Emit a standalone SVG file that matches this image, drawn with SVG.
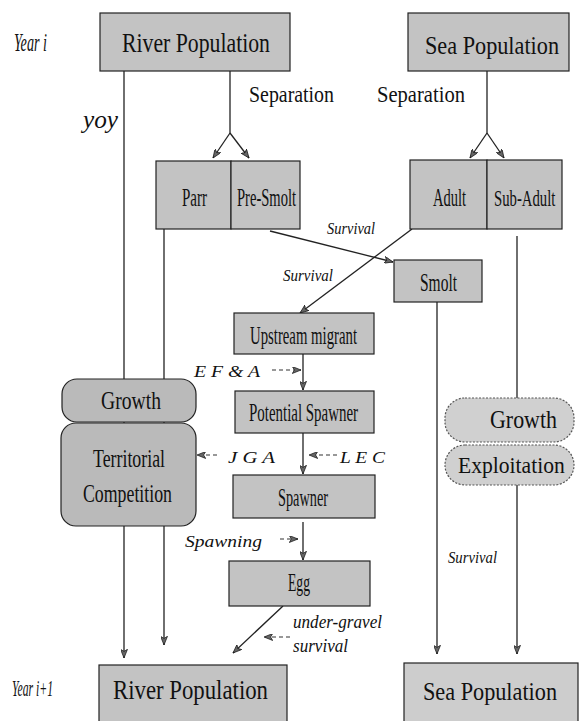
<svg xmlns="http://www.w3.org/2000/svg" width="581" height="721" viewBox="0 0 581 721">
<style>
.box{fill:#c3c3c3;stroke:#222;stroke-width:1.2}
.rbox{fill:#bababa;stroke:#222;stroke-width:1.2}
.lbox{fill:#d0d0d0;stroke:#555;stroke-width:1.2;stroke-dasharray:2 1.5}
text{font-family:'Liberation Serif','DejaVu Serif','Times New Roman',serif;fill:#111}
.t{font-size:26px}
.i{font-style:italic}
.ln{stroke:#222;stroke-width:1.3;fill:none}
.dl{stroke:#333;stroke-width:1.2;fill:none;stroke-dasharray:4 3}
</style>
<defs>
<marker id="ah" viewBox="0 0 10 8" markerWidth="9" markerHeight="7" refX="10" refY="4" orient="auto" markerUnits="userSpaceOnUse"><path d="M0,0 L10,4 L0,8 L2.5,4 z" fill="#666" stroke="#111" stroke-width="0.8"/></marker>
</defs>
<rect width="581" height="721" fill="#fff"/>
<g id="connectors">
<path class="ln" d="M124,71 V658" marker-end="url(#ah)"/>
<path class="ln" d="M164,229 V645" marker-end="url(#ah)"/>
<path class="ln" d="M230,71 V133"/>
<path class="ln" d="M230,133 L213,158" marker-end="url(#ah)"/>
<path class="ln" d="M230,133 L249,158" marker-end="url(#ah)"/>
<path class="ln" d="M487,71 V133"/>
<path class="ln" d="M487,133 L470,158" marker-end="url(#ah)"/>
<path class="ln" d="M487,133 L504,158" marker-end="url(#ah)"/>
<path class="ln" d="M270,231 L393,262" marker-end="url(#ah)"/>
<path class="ln" d="M412,229 L300,313" marker-end="url(#ah)"/>
<path class="ln" d="M303,354 V390" marker-end="url(#ah)"/>
<path class="ln" d="M303,433 V474" marker-end="url(#ah)"/>
<path class="ln" d="M303,522 V560" marker-end="url(#ah)"/>
<path class="ln" d="M283,606 L233,653" marker-end="url(#ah)"/>
<path class="ln" d="M437,302 V654" marker-end="url(#ah)"/>
<path class="ln" d="M517,236 V398"/>
<path class="ln" d="M517,485 V654" marker-end="url(#ah)"/>
<path class="dl" d="M272,370 H301" marker-end="url(#ah)"/>
<path class="dl" d="M217,455 H197" marker-end="url(#ah)"/>
<path class="dl" d="M337,455 H309" marker-end="url(#ah)"/>
<path class="dl" d="M280,539 H298" marker-end="url(#ah)"/>
<path class="dl" d="M290,637 H264" marker-end="url(#ah)"/>
</g>
<g id="labels">
<text class="i" x="14" y="51" font-size="26" textLength="33" lengthAdjust="spacingAndGlyphs">Year i</text>
<text class="i" x="83" y="128" font-size="26" textLength="35" lengthAdjust="spacingAndGlyphs">yoy</text>
<text class="i" x="12" y="696" font-size="24" textLength="41" lengthAdjust="spacingAndGlyphs">Year i+1</text>
<text x="249" y="102" font-size="23" textLength="85" lengthAdjust="spacingAndGlyphs">Separation</text>
<text x="377" y="102" font-size="23" textLength="88" lengthAdjust="spacingAndGlyphs">Separation</text>
<text class="i" x="327" y="234" font-size="17" textLength="48" lengthAdjust="spacingAndGlyphs">Survival</text>
<text class="i" x="283" y="281" font-size="17" textLength="50" lengthAdjust="spacingAndGlyphs">Survival</text>
<text class="i" x="194" y="377" font-size="17" textLength="66" lengthAdjust="spacingAndGlyphs">E F &amp; A</text>
<text class="i" x="228" y="463" font-size="17" textLength="47" lengthAdjust="spacingAndGlyphs">J G A</text>
<text class="i" x="340" y="463" font-size="17" textLength="45" lengthAdjust="spacingAndGlyphs">L E C</text>
<text class="i" x="185" y="547" font-size="17" textLength="77" lengthAdjust="spacingAndGlyphs">Spawning</text>
<text class="i" x="293" y="628" font-size="18" textLength="89" lengthAdjust="spacingAndGlyphs">under-gravel</text>
<text class="i" x="293" y="652" font-size="18" textLength="55" lengthAdjust="spacingAndGlyphs">survival</text>
<text class="i" x="448" y="563" font-size="17" textLength="49" lengthAdjust="spacingAndGlyphs">Survival</text>
</g>
<g id="river_top"><rect class="box" x="100" y="13" width="190" height="58"/><text x="122" y="52" font-size="27" textLength="148" lengthAdjust="spacingAndGlyphs">River Population</text></g>
<g id="sea_top"><rect class="box" x="408" y="13" width="161" height="58"/><text x="425" y="54" font-size="25" textLength="134" lengthAdjust="spacingAndGlyphs">Sea Population</text></g>
<g id="parr"><rect class="box" x="156" y="161" width="75" height="68"/><text class="t" x="182" y="206" textLength="25" lengthAdjust="spacingAndGlyphs">Parr</text></g>
<g id="presmolt"><rect class="box" x="231" y="161" width="69" height="68"/><text class="t" x="237" y="206" font-size="23" textLength="59" lengthAdjust="spacingAndGlyphs">Pre-Smolt</text></g>
<g id="adult"><rect class="box" x="410" y="160" width="77" height="69"/><text class="t" x="433" y="206" textLength="33" lengthAdjust="spacingAndGlyphs">Adult</text></g>
<g id="subadult"><rect class="box" x="487" y="160" width="75" height="69"/><text transform="translate(494,206) scale(0.64,1)" font-size="23">Sub-Adult</text></g>
<g id="smolt"><rect class="box" x="394" y="260" width="88" height="42"/><text class="t" x="420" y="291" textLength="37" lengthAdjust="spacingAndGlyphs">Smolt</text></g>
<g id="upstream"><rect class="box" x="234" y="313" width="140" height="41"/><text class="t" x="250" y="344" font-size="24" textLength="107" lengthAdjust="spacingAndGlyphs">Upstream migrant</text></g>
<g id="potential"><rect class="box" x="235" y="391" width="139" height="42"/><text class="t" x="249" y="421" font-size="24" textLength="109" lengthAdjust="spacingAndGlyphs">Potential Spawner</text></g>
<g id="spawner"><rect class="box" x="233" y="475" width="142" height="43"/><text class="t" x="278" y="506" font-size="24" textLength="50" lengthAdjust="spacingAndGlyphs">Spawner</text></g>
<g id="egg"><rect class="box" x="229" y="561" width="141" height="45"/><text class="t" x="288" y="591" font-size="24" textLength="22" lengthAdjust="spacingAndGlyphs">Egg</text></g>
<g id="growth_left"><rect class="rbox" x="62" y="379" width="134" height="43" rx="15"/><text class="t" x="101" y="409" textLength="60" lengthAdjust="spacingAndGlyphs">Growth</text></g>
<g id="territorial"><rect class="rbox" x="61" y="423" width="135" height="103" rx="15"/><text class="t" x="93" y="467" textLength="72" lengthAdjust="spacingAndGlyphs">Territorial</text><text class="t" x="83" y="502" textLength="89" lengthAdjust="spacingAndGlyphs">Competition</text></g>
<g id="growth_right"><rect class="lbox" x="445" y="398" width="129" height="44" rx="20"/><text class="t" x="490" y="428" textLength="67" lengthAdjust="spacingAndGlyphs">Growth</text></g>
<g id="exploitation"><rect class="lbox" x="445" y="445" width="129" height="40" rx="20"/><text transform="translate(458,473) scale(0.9,1)" font-size="24">Exploitation</text></g>
<g id="river_bottom"><rect class="box" x="99" y="665" width="188" height="62"/><text x="113" y="699" font-size="27" textLength="155" lengthAdjust="spacingAndGlyphs">River Population</text></g>
<g id="sea_bottom"><rect class="box" x="404" y="663" width="174" height="64" style="fill:#cdcdcd"/><text x="423" y="700" font-size="26" textLength="134" lengthAdjust="spacingAndGlyphs">Sea Population</text></g>
</svg>
